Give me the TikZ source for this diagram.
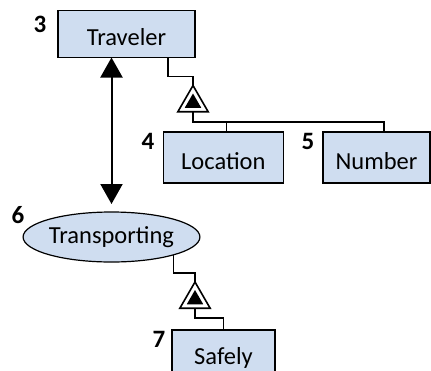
\documentclass[tikz,border=0pt]{standalone}
\usepackage{fontspec}
\setmainfont{Carlito}
\usepackage{tikz}
\usetikzlibrary{shapes.geometric,arrows.meta}
\definecolor{lightblue}{RGB}{207,221,240}

\begin{document}
\begin{tikzpicture}[x=1pt,y=-1pt,
    thing/.style={draw,fill=lightblue,line width=1.2pt,inner sep=0pt,outer sep=0pt,
      text height=23pt,text depth=0pt,font=\fontsize{24.5}{28}\selectfont},
    process/.style={ellipse,draw,fill=lightblue,line width=1.2pt,inner sep=0pt,outer sep=0pt,
      font=\fontsize{24.5}{28}\selectfont},
    idx/.style={font=\fontsize{25}{28}\selectfont\bfseries},
    gen/.style={regular polygon,regular polygon sides=3,draw,fill=white,line width=1.6pt,
      inner sep=0pt,outer sep=0pt,minimum size=35pt},
    genin/.style={regular polygon,regular polygon sides=3,fill=black,
      inner sep=0pt,outer sep=0pt,minimum size=19pt},
    link/.style={line width=1.6pt}]
    \useasboundingbox (0,0) rectangle (431,370);
    % things and process
    \node[thing,minimum width=137pt,minimum height=47pt] (trav) at (126.5,34) {Traveler};
    \node[thing,minimum width=120pt,minimum height=51pt] (loc) at (223.3,157.5) {Location};
    \node[thing,minimum width=107pt,minimum height=51pt] (num) at (376.5,157.5) {Number};
    \node[process,minimum width=167pt,minimum height=50pt] (trans) at (111.5,237) {Transporting};
    \node[thing,minimum width=103pt,minimum height=45pt] (safe) at (223.5,352.5) {Safely};
    % labels
    \node[idx] (n3) at (40,24) {3};
    \node[idx] (n4) at (148,141) {4};
    \node[idx] (n5) at (308,141) {5};
    \node[idx] (n6) at (18,215) {6};
    \node[idx] (n7) at (159,339) {7};
    % exhibition triangles
    \node[gen] (gen1) at (193,103) {};
    \node[genin] (gin1) at (gen1.center) {};
    \node[gen] (gen2) at (195,299.5) {};
    \node[genin] (gin2) at (gen2.center) {};
    %Links
    \draw[link] ([xshift=-27pt]trav.south east) -- ++(0,19) -| (gen1.north);
    \draw[link] (gen1.south) -- ++(0,10) -| ([xshift=3pt]loc.north);
    \draw[link] (gen1.south) ++(0,10) -| ([xshift=7.5pt]num.north);
    \draw[link] (trans.-16) -- ++(0,18) -| (gen2.north);
    \draw[link] (gen2.south) -- ++(0,10) -| (safe.north);
    %Double arrow
    \draw[line width=2pt,{Triangle[width=22pt,length=20pt]}-{Triangle[width=22pt,length=20pt]},
      shorten >=8pt] (trans.north |- trav.south) -- (trans.north);
\end{tikzpicture}
\end{document}
